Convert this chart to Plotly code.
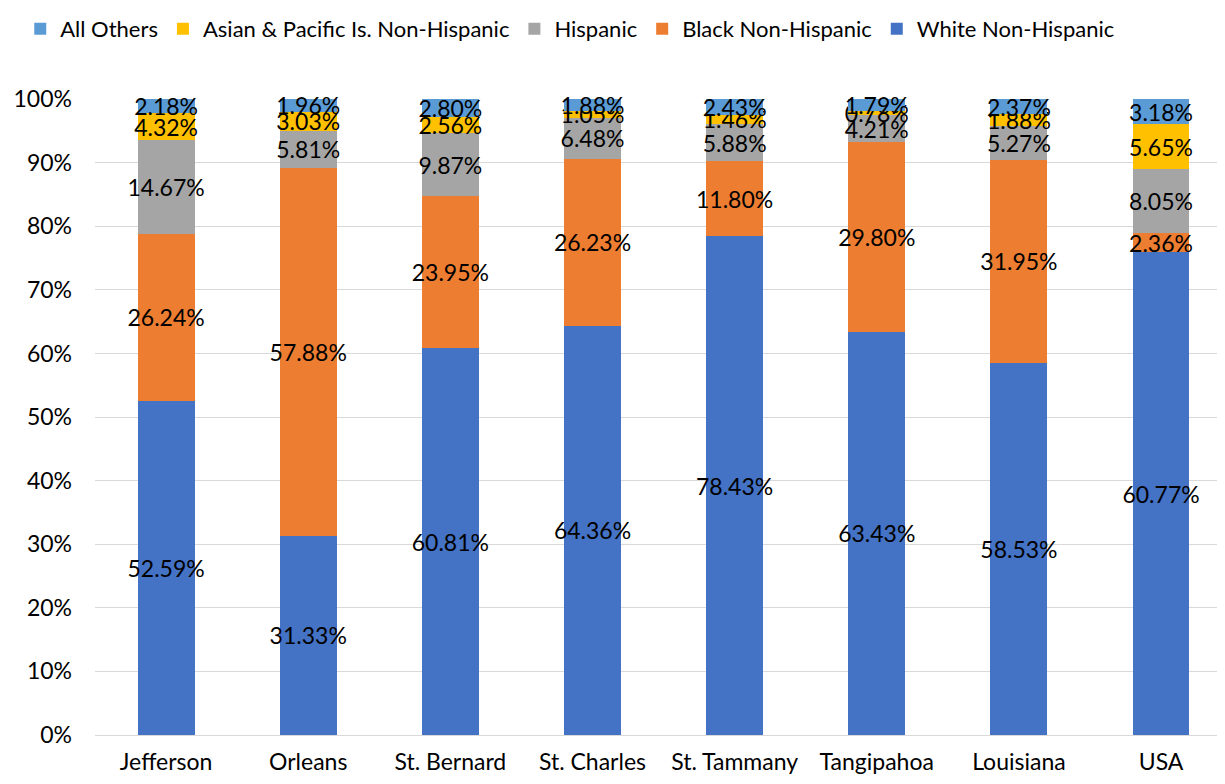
import plotly.graph_objects as go

# --- Data ---
parishes = ["Jefferson", "Orleans", "St. Bernard", "St. Charles", "St. Tammany",
            "Tangipahoa", "Louisiana", "USA"]

white = [52.59, 31.33, 60.81, 64.36, 78.43, 63.43, 58.53, 60.77]
black = [26.24, 57.88, 23.95, 26.23, 11.80, 29.80, 31.95, 2.36]
hispanic = [14.67, 5.81, 9.87, 6.48, 5.88, 4.21, 5.27, 8.05]
asian = [4.32, 3.03, 2.56, 1.05, 1.46, 0.78, 1.88, 5.65]
others = [2.18, 1.96, 2.80, 1.88, 2.43, 1.79, 2.37, 3.18]

y_ticks = [0, 10, 20, 30, 40, 50, 60, 70, 80, 90, 100]

series = [
    ("White Non-Hispanic", white, "#4472C4"),
    ("Black Non-Hispanic", black, "#ED7D31"),
    ("Hispanic", hispanic, "#A5A5A5"),
    ("Asian & Pacific Is. Non-Hispanic", asian, "#FFC000"),
    ("All Others", others, "#5B9BD5"),
]

FONT = "Lato"

fig = go.Figure()
for name, vals, color in series:
    fig.add_trace(go.Bar(
        x=parishes, y=vals, name=name,
        marker=dict(color=color, line=dict(width=0)),
        text=[f"{v:.2f}%" for v in vals],
        textposition="inside", insidetextanchor="middle", textangle=0,
        constraintext="none",
        textfont=dict(family=FONT, size=23, color="black"),
        cliponaxis=False,
    ))

# page body has an 8px margin, so margins are shifted to compensate
fig.update_layout(
    barmode="stack",
    barnorm="percent",
    bargap=0.6,
    width=1225, height=784,
    margin=dict(l=87, r=8, t=91, b=57),
    paper_bgcolor="white", plot_bgcolor="white",
    font=dict(family=FONT, size=23, color="black"),
    uniformtext=dict(minsize=23, mode="show"),
    legend=dict(orientation="h", traceorder="reversed",
                x=0.01, xanchor="left", xref="container",
                y=1.0, yanchor="top", yref="container",
                font=dict(size=22), itemwidth=30),
)

fig.update_yaxes(range=[0, 100.02], tickvals=y_ticks,
                 ticktext=[f"{t}%" for t in y_ticks],
                 showgrid=True, gridcolor="#D9D9D9", gridwidth=1,
                 zeroline=False, showline=False, ticks="", automargin=False,
                 tickfont=dict(size=23), ticklabelstandoff=22)
fig.update_xaxes(range=[-0.5, 7.45], showline=True, linecolor="#D9D9D9",
                 linewidth=1, ticks="", automargin=False,
                 tickfont=dict(size=23), ticklabelstandoff=6)

fig.write_html("out.html")
